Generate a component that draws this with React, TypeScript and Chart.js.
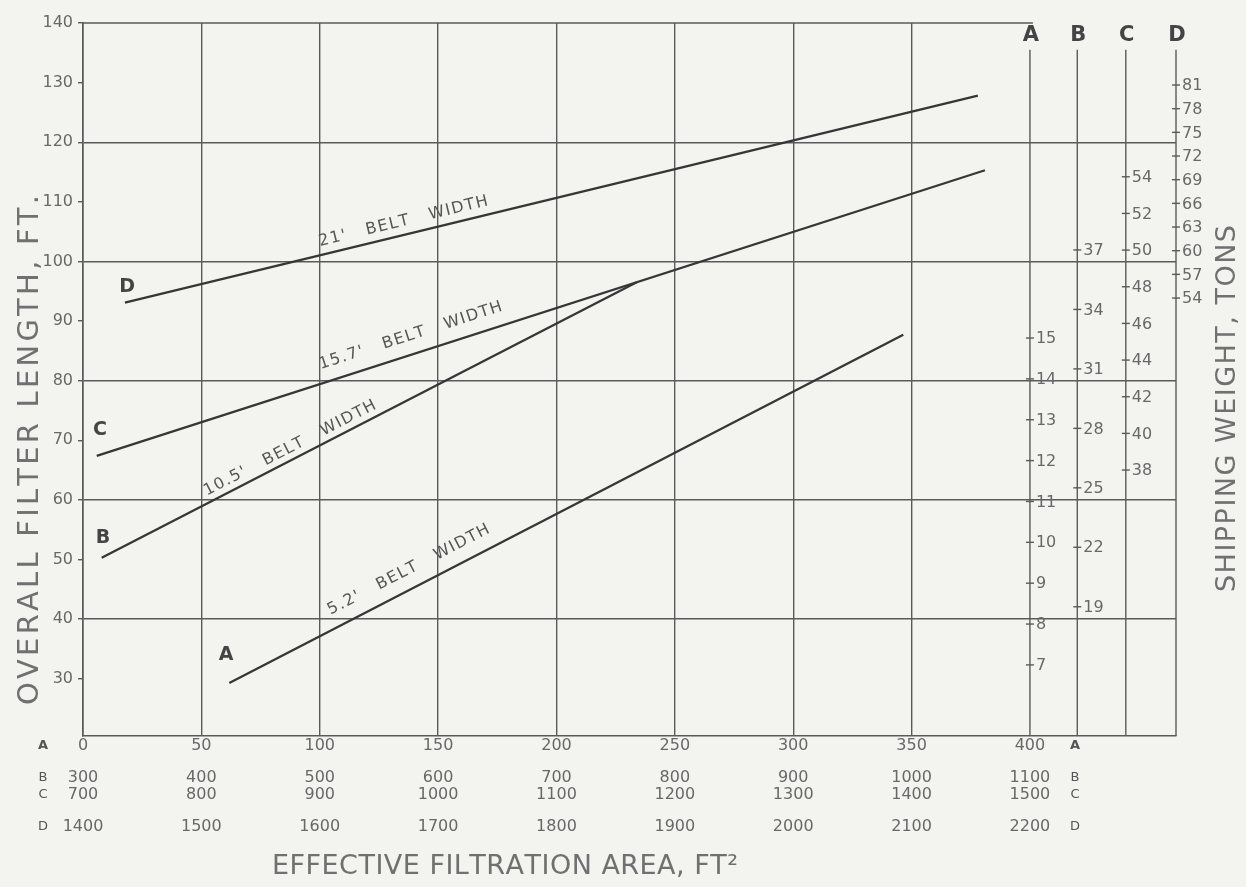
import React, { useEffect, useRef } from 'react';
import { Chart, registerables } from 'chart.js';

Chart.register(...registerables);

const FONT = '"DejaVu Sans", "Liberation Sans", Arial, sans-serif';
const INK = '#363636';
const GRID = '#5a5a5a';
const TEXT = '#686868';
const BG = '#f3f3ef';

// ---- belt-width lines: effective filtration area (A scale) vs overall filter length, ft
const beltLetters = ['A', 'B', 'C', 'D'];
const beltLabels = ["5.2'   BELT   WIDTH", "10.5'   BELT   WIDTH", "15.7'   BELT   WIDTH", "21'   BELT   WIDTH"];
const areaA = [61.8, 346.5];
const lengthA = [29.3, 87.7];
const areaB = [7.9, 233.9];
const lengthB = [50.3, 96.5];
const areaC = [5.8, 381.0];
const lengthC = [67.4, 115.3];
const areaD = [17.7, 378.0];
const lengthD = [93.1, 127.8];

// ---- tick labels
const areaTicksA = [0, 50, 100, 150, 200, 250, 300, 350, 400];
const areaTicksB = [300, 400, 500, 600, 700, 800, 900, 1000, 1100];
const areaTicksC = [700, 800, 900, 1000, 1100, 1200, 1300, 1400, 1500];
const areaTicksD = [1400, 1500, 1600, 1700, 1800, 1900, 2000, 2100, 2200];
const lengthTicks = [30, 40, 50, 60, 70, 80, 90, 100, 110, 120, 130, 140];

// ---- shipping weight scales, tons
const weightTicksA = [7, 8, 9, 10, 11, 12, 13, 14, 15];
const weightTicksB = [19, 22, 25, 28, 31, 34, 37];
const weightTicksC = [38, 40, 42, 44, 46, 48, 50, 52, 54];
const weightTicksD = [54, 57, 60, 63, 66, 69, 72, 75, 78, 81];

// ---- scale ranges
const AREA_MAX = 461.7;
const LENGTH_MIN = 20.4;
const LENGTH_MAX = 140;
const weightRangeA = [5.26, 22.71];
const weightRangeB = [12.48, 48.45];
const weightRangeC = [23.49, 62.39];
const weightRangeD = [-1.51, 88.86];
const weightAxisArea = [400, 420, 440.5, 461.7];

// ---- annotation placement (data space)
const labelStartArea = [107.3, 53.6, 102.2, 101];
const labelGap = [14, 7, 14, 9];
const letterArea = [60.4, 8.4, 7.2, 18.6];
const letterLength = [34.0, 53.6, 71.7, 95.7];

const lines = [
  [areaA, lengthA],
  [areaB, lengthB],
  [areaC, lengthC],
  [areaD, lengthD],
];

function drawSpaced(ctx: CanvasRenderingContext2D, text: string, x: number, y: number, spacing: number) {
  let cx = x;
  for (const ch of Array.from(text)) {
    ctx.fillText(ch, cx, y);
    cx += ctx.measureText(ch).width + spacing;
  }
}
function drawFitted(ctx: CanvasRenderingContext2D, text: string, x: number, y: number, length: number) {
  const chars = Array.from(text);
  const w = chars.reduce((s, c) => s + ctx.measureText(c).width, 0);
  const sp = chars.length > 1 ? (length - w) / (chars.length - 1) : 0;
  drawSpaced(ctx, text, x, y, sp);
}

const nomoPlugin = {
  id: 'nomo',
  afterDraw(chart: any) {
    const { ctx, chartArea: ca, scales } = chart;
    const x = scales.x;
    const y = scales.y;
    ctx.save();

    // top line ends at A scale
    ctx.strokeStyle = GRID;
    ctx.lineWidth = 1.4;
    const yTop = y.getPixelForValue(LENGTH_MAX);
    ctx.beginPath();
    ctx.moveTo(ca.left, yTop);
    ctx.lineTo(x.getPixelForValue(400) + 3, yTop);
    ctx.stroke();

    // shipping weight scales
    const wIds = ['wA', 'wB', 'wC', 'wD'];
    const wTicks = [weightTicksA, weightTicksB, weightTicksC, weightTicksD];
    const lineStart = y.getPixelForValue(135.5);
    wIds.forEach((id, i) => {
      const px = x.getPixelForValue(weightAxisArea[i]);
      ctx.strokeStyle = GRID;
      ctx.lineWidth = 1.4;
      ctx.beginPath();
      ctx.moveTo(px, lineStart);
      ctx.lineTo(px, ca.bottom);
      ctx.stroke();
      ctx.fillStyle = '#444';
      ctx.font = `bold 21px ${FONT}`;
      ctx.textAlign = 'center';
      ctx.textBaseline = 'middle';
      ctx.fillText(beltLetters[i], px + 1, yTop + 13);
      ctx.font = `16px ${FONT}`;
      ctx.textAlign = 'left';
      ctx.fillStyle = TEXT;
      wTicks[i].forEach((t) => {
        const py = scales[id].getPixelForValue(t);
        ctx.beginPath();
        ctx.moveTo(px - 4, py);
        ctx.lineTo(px + 4, py);
        ctx.stroke();
        ctx.fillText(String(t), px + 6, py + 1);
      });
    });

    // belt width labels along lines
    lines.forEach(([xs, ys], i) => {
      const p0x = x.getPixelForValue(xs[0]);
      const p0y = y.getPixelForValue(ys[0]);
      const p1x = x.getPixelForValue(xs[1]);
      const p1y = y.getPixelForValue(ys[1]);
      const ang = Math.atan2(p1y - p0y, p1x - p0x);
      const a = labelStartArea[i];
      const v = ys[0] + (ys[1] - ys[0]) * (a - xs[0]) / (xs[1] - xs[0]);
      ctx.save();
      ctx.translate(x.getPixelForValue(a), y.getPixelForValue(v));
      ctx.rotate(ang);
      ctx.fillStyle = '#555';
      ctx.font = `16px ${FONT}`;
      ctx.textAlign = 'left';
      ctx.textBaseline = 'alphabetic';
      drawSpaced(ctx, beltLabels[i], 0, -labelGap[i], 1.4);
      ctx.restore();

      ctx.fillStyle = '#444';
      ctx.font = `bold 19px ${FONT}`;
      ctx.textAlign = 'center';
      ctx.textBaseline = 'middle';
      ctx.fillText(beltLetters[i], x.getPixelForValue(letterArea[i]), y.getPixelForValue(letterLength[i]));
    });

    // row letters of the four area scales
    const rowIds = ['x', 'xB', 'xC', 'xD'];
    rowIds.forEach((id, i) => {
      const s = scales[id];
      const cy = s.top + 9.6;
      ctx.fillStyle = '#555';
      ctx.font = `${i === 0 ? 'bold ' : ''}13px ${FONT}`;
      ctx.textAlign = 'center';
      ctx.textBaseline = 'middle';
      ctx.fillText(beltLetters[i], ca.left - 40, cy);
      ctx.fillText(beltLetters[i], x.getPixelForValue(400) + 45, cy);
    });

    // axis titles
    ctx.fillStyle = '#707070';
    ctx.textAlign = 'left';
    ctx.textBaseline = 'middle';
    ctx.font = `27px ${FONT}`;
    drawFitted(ctx, 'EFFECTIVE FILTRATION AREA, FT\u00B2', 272, 867, 466);

    ctx.save();
    ctx.translate(30, 705);
    ctx.rotate(-Math.PI / 2);
    ctx.font = `29px ${FONT}`;
    drawFitted(ctx, 'OVERALL FILTER LENGTH, FT.', 0, 0, 510);
    ctx.restore();

    ctx.save();
    ctx.translate(1228, 592);
    ctx.rotate(-Math.PI / 2);
    ctx.font = `27px ${FONT}`;
    drawFitted(ctx, 'SHIPPING WEIGHT, TONS', 0, 0, 367);
    ctx.restore();

    ctx.restore();
  },
};

function areaAxis(ticks: number[], offset: number, height: number, weight: number) {
  return {
    type: 'linear',
    position: 'bottom',
    weight,
    min: offset,
    max: offset + 2 * AREA_MAX,
    afterBuildTicks: (s: any) => {
      s.ticks = ticks.map((v) => ({ value: v }));
    },
    afterFit: (s: any) => {
      s.height = height;
    },
    ticks: {
      autoSkip: false,
      maxRotation: 0,
      padding: 0,
      color: TEXT,
      font: { family: FONT, size: 16 },
      callback: (v: any) => String(v),
    },
    grid: { display: false, drawTicks: false },
    border: { display: false },
  };
}

export default function App() {
  const ref = useRef<HTMLCanvasElement>(null);
  useEffect(() => {
    const chart = new Chart(ref.current as HTMLCanvasElement, {
      type: 'line',
      data: {
        datasets: lines.map(([xs, ys], i) => ({
          label: beltLabels[i],
          data: xs.map((a, j) => ({ x: a, y: ys[j] })),
          borderColor: INK,
          borderWidth: 2.3,
          pointRadius: 0,
          fill: false,
          tension: 0,
        })),
      },
      options: {
        responsive: false,
        animation: false,
        layout: { padding: { top: 23, right: 70, bottom: 0, left: 0 } },
        plugins: { legend: { display: false }, tooltip: { enabled: false } },
        scales: {
          x: {
            type: 'linear',
            position: 'bottom',
            weight: 0,
            min: 0,
            max: AREA_MAX,
            afterBuildTicks: (s: any) => {
              s.ticks = areaTicksA.map((v) => ({ value: v }));
            },
            afterFit: (s: any) => {
              s.height = 32.4;
            },
            ticks: {
              autoSkip: false,
              maxRotation: 0,
              padding: 0,
              color: TEXT,
              font: { family: FONT, size: 16 },
              callback: (v: any) => String(v),
            },
            grid: {
              drawTicks: false,
              lineWidth: 1.4,
              color: (c: any) => (c.tick && c.tick.value === 400 ? 'rgba(0,0,0,0)' : GRID),
            },
            border: { display: true, color: GRID, width: 1.6 },
          },
          xB: areaAxis(areaTicksB, 300, 17, 1),
          xC: areaAxis(areaTicksC, 700, 32, 2),
          xD: areaAxis(areaTicksD, 1400, 69.6, 3),
          y: {
            type: 'linear',
            position: 'left',
            min: LENGTH_MIN,
            max: LENGTH_MAX,
            afterBuildTicks: (s: any) => {
              s.ticks = lengthTicks.map((v) => ({ value: v }));
            },
            afterFit: (s: any) => {
              s.width = 83;
            },
            ticks: {
              padding: 5,
              color: TEXT,
              font: { family: FONT, size: 16 },
              callback: (v: any) => String(v),
            },
            grid: {
              drawTicks: true,
              tickLength: 5,
              tickColor: GRID,
              lineWidth: 1.4,
              color: (c: any) =>
                c.tick && c.tick.value % 20 === 0 && c.tick.value !== 140 ? GRID : 'rgba(0,0,0,0)',
            },
            border: { display: true, color: GRID, width: 1.6 },
          },
          wA: { type: 'linear', axis: 'y', position: 'right', display: false, min: weightRangeA[0], max: weightRangeA[1] },
          wB: { type: 'linear', axis: 'y', position: 'right', display: false, min: weightRangeB[0], max: weightRangeB[1] },
          wC: { type: 'linear', axis: 'y', position: 'right', display: false, min: weightRangeC[0], max: weightRangeC[1] },
          wD: { type: 'linear', axis: 'y', position: 'right', display: false, min: weightRangeD[0], max: weightRangeD[1] },
        },
      } as any,
      plugins: [nomoPlugin],
    });
    return () => chart.destroy();
  }, []);
  return (
    <div style={{ position: 'absolute', left: 0, top: 0, width: 1246, height: 887, background: BG }}>
      <canvas ref={ref} width={1246} height={887} style={{ display: 'block', width: 1246, height: 887 }} />
    </div>
  );
}
